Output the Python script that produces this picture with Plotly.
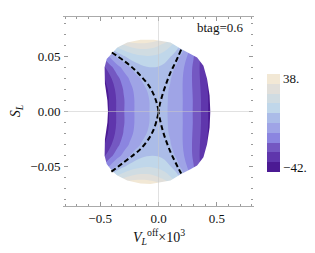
import plotly.graph_objects as go

# grid of the contoured quantity
X_GRID = [-0.5, -0.45, -0.4, -0.35, -0.3, -0.25, -0.2, -0.15, -0.1, -0.05, 0.0,
          0.05, 0.1, 0.15, 0.2, 0.25, 0.3, 0.35, 0.4, 0.45, 0.5]
Y_GRID = [-0.07, -0.06, -0.05, -0.04, -0.03, -0.02, -0.01, 0.0,
          0.01, 0.02, 0.03, 0.04, 0.05, 0.06, 0.07]
Z = [
    [30.1, 35.3, 39.6, 43, 45.3, 46.7, 47.1, 46.5, 45, 42.4, 38.9, 34.5, 29, 22.6, 15.2, 6.8, -3.6, -14.4, -24.5, -34.8, -45.3],
    [1.6, 8.1, 13.6, 18.2, 21.7, 24.3, 26, 26.6, 26.3, 25, 22.7, 19.5, 15.2, 10, 3.9, -4.5, -13, -21.4, -30, -39, -48.4],
    [-20.1, -13.1, -6.5, 0.5, 5.1, 8.7, 11.3, 12.9, 13.6, 13.3, 12, 9.7, 6.5, 2.3, -4, -10.7, -17.5, -24.7, -32.3, -40.5, -49],
    [-32.2, -25.2, -18.8, -12.9, -7.5, -2.5, 1.7, 4.1, 5.6, 6, 5.5, 4, 1.5, -2.8, -7.9, -13.3, -19.2, -25.7, -32.7, -40.2, -48.2],
    [-39.4, -32.3, -25.7, -19.7, -14.3, -9.5, -5.3, -1.6, 1, 2, 2, 1.1, -1.4, -5.1, -9.2, -14, -19.4, -25.4, -31.9, -39, -46.6],
    [-43.3, -36, -29.3, -23.1, -17.6, -12.7, -8.4, -4.8, -1.9, 0.1, 0.5, -0.3, -2.6, -5.6, -9.4, -13.9, -19, -24.7, -31, -37.8, -45.2],
    [-44.7, -37.4, -30.6, -24.4, -18.8, -13.8, -9.4, -5.8, -2.9, -0.8, 0, -0.8, -2.8, -5.7, -9.3, -13.6, -18.6, -24.2, -30.4, -37.2, -44.5],
    [-44.6, -37.3, -30.5, -24.3, -18.7, -13.7, -9.4, -5.8, -2.9, -0.9, 0, -0.9, -2.9, -5.8, -9.4, -13.7, -18.7, -24.3, -30.5, -37.3, -44.6],
    [-44.7, -37.4, -30.6, -24.4, -18.8, -13.8, -9.4, -5.8, -2.9, -0.8, 0, -0.8, -2.8, -5.7, -9.3, -13.6, -18.6, -24.2, -30.4, -37.2, -44.5],
    [-43.3, -36, -29.3, -23.1, -17.6, -12.7, -8.4, -4.8, -1.9, 0.1, 0.5, -0.3, -2.6, -5.6, -9.4, -13.9, -19, -24.7, -31, -37.8, -45.2],
    [-39.4, -32.3, -25.7, -19.7, -14.3, -9.5, -5.3, -1.6, 1, 2, 2, 1.1, -1.4, -5.1, -9.2, -14, -19.4, -25.4, -31.9, -39, -46.6],
    [-32.2, -25.2, -18.8, -12.9, -7.5, -2.5, 1.7, 4.1, 5.6, 6, 5.5, 4, 1.5, -2.8, -7.9, -13.3, -19.2, -25.7, -32.7, -40.2, -48.2],
    [-20.1, -13.1, -6.5, 0.5, 5.1, 8.7, 11.3, 12.9, 13.6, 13.3, 12, 9.7, 6.5, 2.3, -4, -10.7, -17.5, -24.7, -32.3, -40.5, -49],
    [1.6, 8.1, 13.6, 18.2, 21.7, 24.3, 26, 26.6, 26.3, 25, 22.7, 19.5, 15.2, 10, 3.9, -4.5, -13, -21.4, -30, -39, -48.4],
    [30.1, 35.3, 39.6, 43, 45.3, 46.7, 47.1, 46.5, 45, 42.4, 38.9, 34.5, 29, 22.6, 15.2, 6.8, -3.6, -14.4, -24.5, -34.8, -45.3],
]

LEVEL_START, LEVEL_END, LEVEL_STEP = -34, 30, 8
Z_MIN, Z_MAX = -42, 38
BAND_COLORS = ["#4b1a93", "#5f36ac", "#7458c2", "#8b85e0", "#9fa4e6",
               "#abbce8", "#c0d7ea", "#d0dce2", "#e1dfda", "#f2e8d5"]
CBAR_TICKVALS = [34, -38]
CBAR_TICKTEXT = ["38.", "\u221242."]

# outline of the allowed region
BOUND_X = [-0.433, -0.438, -0.459, -0.462, -0.444, -0.396, -0.353, -0.268, -0.154, -0.040,
           0.017, 0.103, 0.194, 0.274, 0.331, 0.385, 0.416, 0.438, 0.444,
           0.438, 0.416, 0.385, 0.331, 0.274, 0.194, 0.103, 0.017, -0.068, -0.154, -0.268,
           -0.353, -0.396, -0.444, -0.462, -0.459, -0.438]
BOUND_Y = [0.0, 0.0099, 0.025, 0.040, 0.0475, 0.0534, 0.0579, 0.0624, 0.0649, 0.0650,
           0.0640, 0.0624, 0.0565, 0.0523, 0.0489, 0.0414, 0.0297, 0.0144, 0.0,
           -0.0144, -0.0297, -0.0414, -0.0489, -0.0523, -0.0565, -0.0624, -0.0640, -0.0656, -0.0652, -0.0624,
           -0.0579, -0.0540, -0.0475, -0.040, -0.025, -0.0099]

# dashed curves
DASH_L_X = [-0.400, -0.297, -0.211, -0.154, -0.083, -0.040, -0.011, 0.0,
            -0.011, -0.040, -0.083, -0.154, -0.211, -0.297, -0.405]
DASH_L_Y = [0.0534, 0.0459, 0.0385, 0.0324, 0.0234, 0.0150, 0.0060, 0.0,
            -0.0060, -0.0160, -0.0245, -0.0340, -0.0390, -0.0460, -0.0545]
DASH_R_X = [0.194, 0.145, 0.103, 0.060, 0.032, 0.009, 0.0,
            0.009, 0.032, 0.060, 0.103, 0.145, 0.194]
DASH_R_Y = [0.0559, 0.0444, 0.0354, 0.0234, 0.0144, 0.0054, 0.0,
            -0.0054, -0.0156, -0.0250, -0.0367, -0.0460, -0.0561]

X_RANGE = [-0.81, 0.81]
Y_RANGE = [-0.0855, 0.0855]
X_TICKS = [-0.5, 0.0, 0.5]
X_TICKTEXT = ["\u22120.5", "0.0", "0.5"]
Y_TICKS = [-0.05, 0.0, 0.05]
Y_TICKTEXT = ["\u22120.05", "0.00", "0.05"]

FONT = "Liberation Serif"
n = len(BAND_COLORS)
band_scale = [[i / (n - 1), c] for i, c in enumerate(BAND_COLORS)]
step_scale = []
for i, c in enumerate(BAND_COLORS):
    step_scale += [[i / n, c], [(i + 1) / n, c]]

fig = go.Figure()
fig.add_trace(go.Contour(
    x=X_GRID, y=Y_GRID, z=Z,
    autocontour=False,
    contours=dict(start=LEVEL_START, end=LEVEL_END, size=LEVEL_STEP,
                  coloring="fill", showlines=False),
    line=dict(width=0, smoothing=1),
    colorscale=band_scale, showscale=False,
    hoverinfo="skip",
))

mx = BOUND_X + [BOUND_X[0], X_RANGE[0], X_RANGE[0], X_RANGE[1], X_RANGE[1], X_RANGE[0], X_RANGE[0], BOUND_X[0]]
my = BOUND_Y + [BOUND_Y[0], 0.0, Y_RANGE[0], Y_RANGE[0], Y_RANGE[1], Y_RANGE[1], 0.0, BOUND_Y[0]]
fig.add_trace(go.Scatter(x=mx, y=my, mode="lines", fill="toself", fillcolor="white",
                         line=dict(width=0, color="white"), hoverinfo="skip", showlegend=False))

for dx, dy in ((DASH_L_X, DASH_L_Y), (DASH_R_X, DASH_R_Y)):
    fig.add_trace(go.Scatter(x=dx, y=dy, mode="lines", line_shape="spline",
                             line=dict(color="black", width=2, dash="5px,3px"),
                             hoverinfo="skip", showlegend=False))

# colour legend (stepped bar from Z_MIN to Z_MAX)
fig.add_trace(go.Scatter(
    x=[None], y=[None], mode="markers", hoverinfo="skip", showlegend=False,
    marker=dict(color=[Z_MIN], colorscale=step_scale, cmin=Z_MIN, cmax=Z_MAX, showscale=True,
                colorbar=dict(
                    x=1.0725, xanchor="left", xpad=0,
                    y=0.439, yanchor="middle", ypad=0,
                    len=98, lenmode="pixels", thickness=13,
                    outlinewidth=0, ticks="",
                    tickvals=CBAR_TICKVALS, ticktext=CBAR_TICKTEXT,
                    tickfont=dict(family=FONT, size=13, color="#111"),
                )),
))

grid_col = "rgba(200,200,200,0.55)"
fig.add_shape(type="line", xref="x", yref="paper", x0=0, x1=0, y0=0, y1=1,
              line=dict(color=grid_col, width=1), layer="above")
fig.add_shape(type="line", xref="paper", yref="y", x0=0, x1=1, y0=0, y1=0,
              line=dict(color=grid_col, width=1), layer="above")

fig.update_xaxes(range=X_RANGE, showgrid=False, zeroline=False,
                 tickvals=X_TICKS, ticktext=X_TICKTEXT,
                 ticks="inside", ticklen=4, tickcolor="#999", tickwidth=1,
                 minor=dict(ticks="inside", dtick=0.1, ticklen=2, tickcolor="#999"),
                 showline=True, linecolor="#aaa", linewidth=1, mirror="allticks",
                 tickfont=dict(family=FONT, size=13, color="#111"))
fig.update_yaxes(range=Y_RANGE, showgrid=False, zeroline=False,
                 tickvals=Y_TICKS, ticktext=Y_TICKTEXT,
                 ticks="inside", ticklen=4, tickcolor="#999", tickwidth=1,
                 minor=dict(ticks="inside", dtick=0.01, ticklen=2, tickcolor="#999"),
                 showline=True, linecolor="rgba(0,0,0,0)", linewidth=1, mirror="allticks",
                 tickfont=dict(family=FONT, size=13, color="#111"))

# the page body adds an 8px offset, so the figure is sized to fit the window
fig.update_layout(
    width=307, height=245,
    margin=dict(l=56, r=62, t=9, b=47, autoexpand=False),
    paper_bgcolor="white", plot_bgcolor="white",
    showlegend=False,
    annotations=[
        dict(text="btag=0.6", xref="paper", yref="paper", x=0.958, y=0.942,
             xanchor="right", yanchor="middle", showarrow=False,
             font=dict(family=FONT, size=13, color="#111")),
        dict(text="<i>S</i><sub><i>L</i></sub>", xref="paper", yref="paper",
             x=-0.25, y=0.5, textangle=-90, xanchor="center", yanchor="middle",
             showarrow=False, font=dict(family=FONT, size=14, color="#111")),
        dict(text="<i>V</i><sub><i>L</i></sub><sup>off</sup>\u00d710<sup>3</sup>",
             xref="paper", yref="paper", x=0.5, y=-0.164,
             xanchor="center", yanchor="middle", showarrow=False,
             font=dict(family=FONT, size=14, color="#111")),
    ],
)

fig.write_html("out.html")
